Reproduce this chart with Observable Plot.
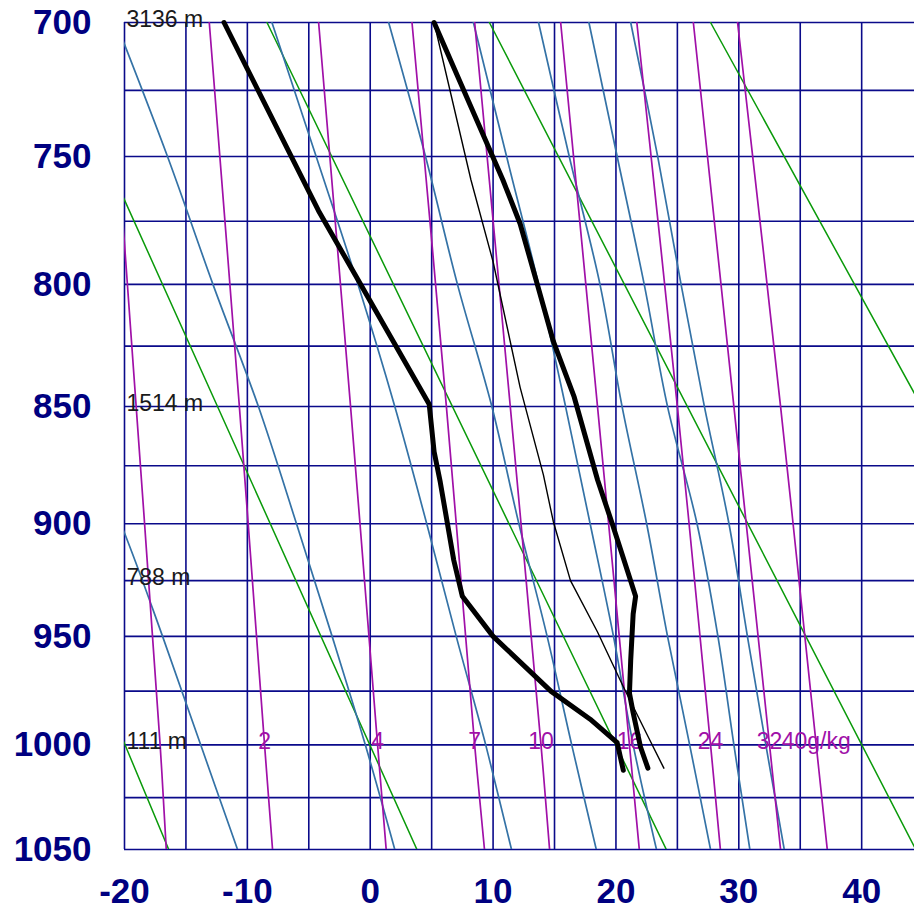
<!DOCTYPE html>
<html>
<head>
<meta charset="utf-8">
<script src="https://cdn.jsdelivr.net/npm/d3@7"></script>
<script src="https://cdn.jsdelivr.net/npm/@observablehq/plot@0.6"></script>
<style>
  html, body { margin: 0; padding: 0; background: #fff; }
  #chart svg { display: block; }
</style>
</head>
<body>
<div id="chart"></div>
<script>
// ---- axis ticks and grid ----
const pressureTicks = [700, 750, 800, 850, 900, 950, 1000, 1050];
const tempTicks = [-20, -10, 0, 10, 20, 30, 40];
const isobars = [700, 725, 750, 775, 800, 825, 850, 875, 900, 925, 950, 975, 1000, 1025, 1050];
const isotherms = [-20, -15, -10, -5, 0, 5, 10, 15, 20, 25, 30, 35, 40];

// ---- dry adiabats (green): temperature at 700 hPa and at 1050 hPa ----
const dryT700 = [-44.5, -26.5, -8.4, 9.7, 27.7];
const dryT1050 = [-16.4, 3.8, 24.1, 44.4, 64.7];

// ---- moist adiabats (blue): temperature at these levels ----
const moistLevels = [700, 750, 800, 850, 900, 950, 1000, 1050];
const moistA = [null, null, null, -24.5, -20.3, -16.9, -13.8, -10.8];
const moistB = [-20.7, -16.5, -12.8, -9.1, -6.0, -3.1, -0.4, 2.0];
const moistC = [-8.0, -4.4, -1.0, 2.0, 4.6, 7.0, 9.4, 11.5];
const moistD = [1.5, 4.5, 7.1, 9.9, 12.1, 14.4, 16.4, 18.4];
const moistE = [8.4, 11.1, 13.7, 15.9, 17.9, 19.8, 21.4, 23.3];
const moistF = [13.7, 16.2, 18.7, 20.5, 22.5, 24.2, 26.0, 27.7];
const moistG = [17.8, 20.1, 22.3, 24.2, 26.6, 28.3, 29.6, 30.9];
const moistH = [21.2, 23.4, 25.3, 27.2, 29.2, 30.7, 32.2, 33.7];

// ---- mixing-ratio lines (magenta): temperature at these levels ----
const mixLevels = [700, 850, 1000, 1050];
const mix1 = [-21.3, -19.05, -17.1, -16.6];
const mix2 = [-13.1, -10.65, -8.6, -7.95];
const mix4 = [-4.2, -1.6, 0.6, 1.3];
const mix7 = [3.4, 6.2, 8.5, 9.3];
const mix10 = [8.5, 11.4, 13.9, 14.6];
const mix16 = [15.5, 18.5, 21.1, 21.9];
const mix24 = [21.7, 25.0, 27.7, 28.5];
const mix32 = [26.3, 29.6, 32.5, 33.4];
const mix40 = [29.9, 33.4, 36.3, 37.2];
const mixLabels = ["2", "4", "7", "10", "16", "24", "32", "40g/kg"];
const mixLabelT = [-8.6, 0.6, 8.5, 13.9, 21.1, 27.7, 32.5, 36.3];
const mixLabelP = 1000;

// ---- heights of standard levels ----
const heightP = [700, 850, 925, 1000];
const heightText = ["3136 m", "1514 m", "788 m", "111 m"];

// ---- sounding ----
const tempP = [700, 759, 776, 800, 823, 846, 881, 900, 915, 932, 940, 961, 976, 985, 1001, 1011];
const tempT = [5.2, 10.8, 12.2, 13.6, 14.9, 16.6, 18.5, 19.7, 20.6, 21.6, 21.4, 21.2, 21.1, 21.4, 22.0, 22.6];
const dewP = [700, 771, 849, 869, 882, 916, 932, 950, 975, 988, 999, 1012];
const dewT = [-11.9, -4.2, 4.8, 5.2, 5.7, 6.8, 7.5, 10.0, 14.7, 17.9, 20.1, 20.6];
const parcelP = [700, 759, 791, 842, 879, 899, 925, 948, 973, 996, 1011];
const parcelT = [5.2, 8.2, 10.0, 12.2, 14.1, 14.9, 16.3, 18.5, 20.6, 22.6, 23.9];

// ---- build tables ----
const dryRows = dryT700.flatMap((t, i) => [
  {id: i, p: 700, T: t},
  {id: i, p: 1050, T: dryT1050[i]}
]);
const moistSets = [moistA, moistB, moistC, moistD, moistE, moistF, moistG, moistH];
const moistRows = moistSets.flatMap((arr, i) =>
  arr.map((t, j) => ({id: i, p: moistLevels[j], T: t})).filter(d => d.T !== null));
const mixSets = [mix1, mix2, mix4, mix7, mix10, mix16, mix24, mix32, mix40];
const mixRows = mixSets.flatMap((arr, i) =>
  arr.map((t, j) => ({id: i, p: mixLevels[j], T: t})));
const mixLabelRows = mixLabels.map((s, i) => ({label: s, T: mixLabelT[i], p: mixLabelP}));
const heightRows = heightP.map((p, i) => ({p, label: heightText[i]}));
const tempRows = tempP.map((p, i) => ({p, T: tempT[i]}));
const dewRows = dewP.map((p, i) => ({p, T: dewT[i]}));
const parcelRows = parcelP.map((p, i) => ({p, T: parcelT[i]}));

const NAVY = "#0a0a8a";
const LABEL = "#000080";
const GREEN = "#0a9a0a";
const BLUE = "#3472a6";
const MAGENTA = "#a010a8";

const chart = Plot.plot({
  width: 914,
  height: 910,
  marginLeft: 124,
  marginRight: 0,
  marginTop: 22,
  marginBottom: 61,
  style: {fontFamily: "'Liberation Sans', Arial, sans-serif", background: "#fff"},
  x: {domain: [-20, 44.3], range: [124, 914]},
  y: {type: "pow", exponent: 0.2857, domain: [700, 1050], range: [22, 849]},
  marks: [
    Plot.ruleX(isotherms, {x: d => d, y1: 700, y2: 1050, stroke: NAVY, strokeWidth: 1.6}),
    Plot.ruleY(isobars, {y: d => d, x1: -20, x2: 44.3, stroke: NAVY, strokeWidth: 1.6}),
    Plot.line(dryRows, {x: "T", y: "p", z: "id", stroke: GREEN, strokeWidth: 1.5, clip: true}),
    Plot.line(moistRows, {x: "T", y: "p", z: "id", stroke: BLUE, strokeWidth: 1.7, curve: "catmull-rom", clip: true}),
    Plot.line(mixRows, {x: "T", y: "p", z: "id", stroke: MAGENTA, strokeWidth: 1.7, curve: "catmull-rom", clip: true}),
    Plot.text(mixLabelRows, {x: "T", y: "p", text: "label", fill: MAGENTA, fontSize: 23, dy: -3, textAnchor: "middle"}),
    Plot.text(heightRows, {x: -20, y: "p", text: "label", fill: "#1a1a1a", fontSize: 23, dx: 2, dy: -3, textAnchor: "start"}),
    Plot.line(parcelRows, {x: "T", y: "p", stroke: "#000", strokeWidth: 1.4}),
    Plot.line(tempRows, {x: "T", y: "p", stroke: "#000", strokeWidth: 5, strokeLinejoin: "round"}),
    Plot.line(dewRows, {x: "T", y: "p", stroke: "#000", strokeWidth: 5, strokeLinejoin: "round"}),
    Plot.axisX(tempTicks, {anchor: "bottom", tickSize: 0, tickPadding: 29, fontSize: 35, fontWeight: "bold", color: LABEL, label: null, tickFormat: d => String(d)}),
    Plot.axisY(pressureTicks, {anchor: "left", tickSize: 0, tickPadding: 33, fontSize: 35, fontWeight: "bold", color: LABEL, label: null, tickFormat: d => String(d)})
  ]
});
document.getElementById("chart").appendChild(chart);
</script>
</body>
</html>
